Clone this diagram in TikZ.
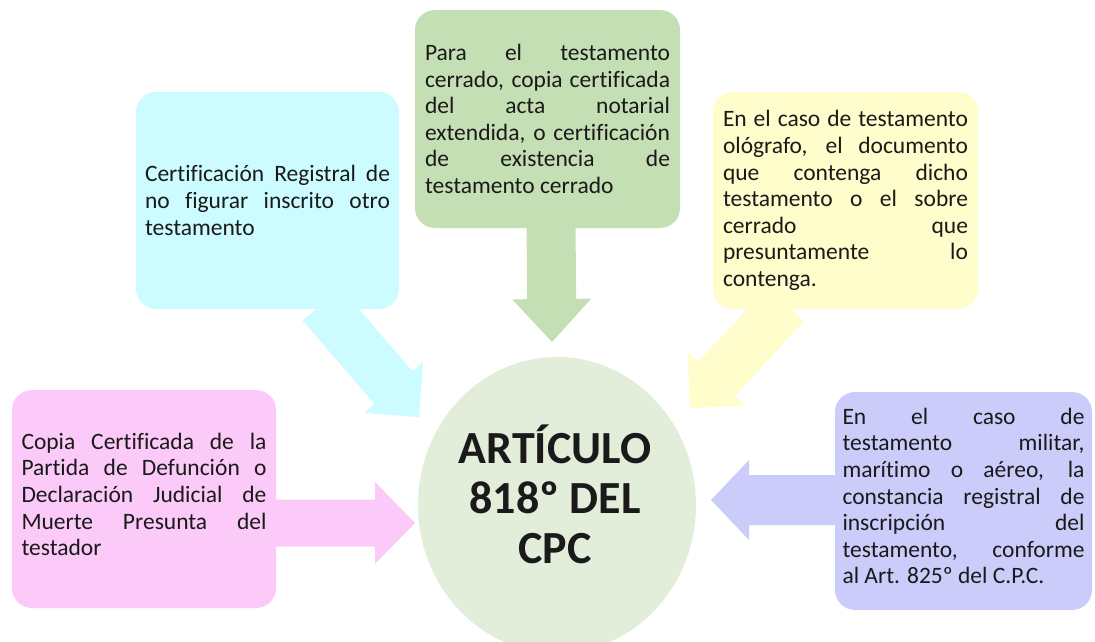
\documentclass[tikz,border=0pt]{standalone}
\usepackage{fontspec}
\setmainfont[Ligatures=NoCommon]{Carlito}
\usetikzlibrary{calc,shapes.geometric}
\pgfdeclarelayer{background}
\pgfsetlayers{background,main}
\tolerance=10000
\hyphenpenalty=10000
\hbadness=10000
\definecolor{pinkc}{HTML}{FBCAF8}
\definecolor{cyanc}{HTML}{CCFCFF}
\definecolor{greenc}{HTML}{C5DFB4}
\definecolor{yellowc}{HTML}{FFFDCB}
\definecolor{purplec}{HTML}{CCCCFB}
\definecolor{ellc}{HTML}{E2EEDA}
\definecolor{txtc}{HTML}{1A1A1A}
\tikzset{
  infobox/.style={rounded corners=20pt, inner sep=0pt, minimum height=218pt,
    minimum width=264pt, text width=245pt, align=justify, text=txtc,
    font=\fontsize{23.5}{26.6}\selectfont},
  coretext/.style={align=center, inner sep=0pt, text=txtc,
    font=\fontsize{46}{50}\selectfont\bfseries}
}
% #1 colour, #2 start, #3 tip, #4 body half width, #5 head half width, #6 head length
\newcommand\blockarrow[6]{%
  \path ($(#3)!#6!(#2)$) coordinate (hb);
  \fill[#1] ($(#2)!#4!90:(#3)$) -- ($(hb)!#4!90:(#3)$) -- ($(hb)!#5!90:(#3)$)
    -- (#3) -- ($(hb)!#5!-90:(#3)$) -- ($(hb)!#4!-90:(#3)$)
    -- ($(#2)!#4!-90:(#3)$) -- cycle;
}
\begin{document}
\begin{tikzpicture}[x=1pt,y=-1pt]
\useasboundingbox (0,0) rectangle (1095,642);

\node[ellipse, fill=ellc, minimum width=278pt, minimum height=296pt, inner sep=0pt] (core) at (557,505) {};
\node[coretext] (corelabel) at (555,494) {ARTÍCULO\\818º DEL\\CPC};

\node[infobox, fill=pinkc] (pink) at (144,499)
  {Copia Certificada de la\linebreak Partida de Defunción o\linebreak Declaración Judicial de\linebreak Muerte Presunta del\linebreak testador\par\vspace*{9pt}};
\node[infobox, fill=cyanc, minimum width=263pt, minimum height=217pt] (cyan) at (267.5,200.5)
  {Certificación Registral de\linebreak no figurar inscrito otro\linebreak testamento};
\node[infobox, fill=greenc, minimum width=265pt] (green) at (547.5,119)
  {Para el testamento\linebreak cerrado, copia certificada\linebreak del acta notarial\linebreak extendida, o certificación\linebreak de existencia de\linebreak testamento cerrado};
\node[infobox, fill=yellowc, minimum width=265pt, minimum height=217pt] (yellow) at (845.5,200.5)
  {En el caso de testamento\linebreak ológrafo, el documento\linebreak que contenga dicho\linebreak testamento o el sobre\linebreak cerrado que\linebreak presuntamente lo\linebreak contenga.};
\node[infobox, fill=purplec, minimum width=257pt, text width=242pt] (purple) at (963.5,501)
  {En el caso de\linebreak testamento militar,\linebreak marítimo o aéreo, la\linebreak constancia registral de\linebreak inscripción del\linebreak testamento, conforme\linebreak al Art. 825º del C.P.C.\par\vspace*{10pt}};

\coordinate (pinkS) at ($(pink.east)+(-5,24)$);
\coordinate (pinkT) at (415,523);
\coordinate (greenS) at ($(green.south)+(3.5,-5)$);
\coordinate (greenT) at (552,342);
\coordinate (purpleS) at ($(purple.west)+(5,-1)$);
\coordinate (purpleT) at (711,500);
\coordinate (cyanS) at ($(cyan.south)+(54,-5)$);
\coordinate (cyanT) at (419,417);
\coordinate (yellowS) at ($(yellow.south)+(-60,-5)$);
\coordinate (yellowT) at (690,408);

\begin{pgfonlayer}{background}
\blockarrow{pinkc}{pinkS}{pinkT}{23.5pt}{41pt}{40pt}
\blockarrow{greenc}{greenS}{greenT}{24.5pt}{39.5pt}{43pt}
\blockarrow{purplec}{purpleS}{purpleT}{25pt}{40pt}{38pt}
\blockarrow{cyanc}{cyanS}{cyanT}{25pt}{39pt}{39pt}
\blockarrow{yellowc}{yellowS}{yellowT}{25pt}{39pt}{39pt}
\end{pgfonlayer}
\end{tikzpicture}
\end{document}
